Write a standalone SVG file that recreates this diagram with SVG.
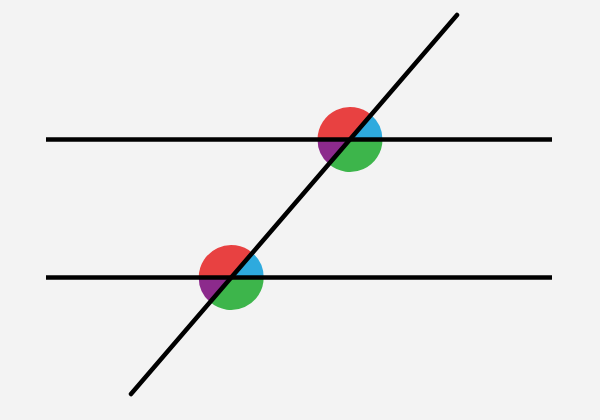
<svg xmlns="http://www.w3.org/2000/svg" width="600" height="420" viewBox="0 0 600 420">
<style>
.red{fill:#e84141}.blue{fill:#2eaade}.purple{fill:#8c2a8c}.green{fill:#3db54b}
.ln{stroke:#000;stroke-width:4.5;fill:none;stroke-linecap:round}
</style>
<rect width="600" height="420" fill="#f3f3f3"/>
<g id="angles-top">
<path class="blue" d="M350,139.5 L382.5,139.5 A32.5,32.5 0 0 0 371.2,114.9 Z"/>
<path class="red" d="M350,139.5 L371.2,114.9 A32.5,32.5 0 0 0 317.5,139.5 Z"/>
<path class="purple" d="M350,139.5 L317.5,139.5 A32.5,32.5 0 0 0 328.8,164.1 Z"/>
<path class="green" d="M350,139.5 L328.8,164.1 A32.5,32.5 0 0 0 382.5,139.5 Z"/>
</g>
<g id="angles-bottom">
<path class="blue" d="M231.2,277.5 L263.7,277.5 A32.5,32.5 0 0 0 252.4,252.9 Z"/>
<path class="red" d="M231.2,277.5 L252.4,252.9 A32.5,32.5 0 0 0 198.7,277.5 Z"/>
<path class="purple" d="M231.2,277.5 L198.7,277.5 A32.5,32.5 0 0 0 210.0,302.1 Z"/>
<path class="green" d="M231.2,277.5 L210.0,302.1 A32.5,32.5 0 0 0 263.7,277.5 Z"/>
</g>
<g id="connectors">
<line class="ln" x1="46" y1="139.5" x2="552" y2="139.5" style="stroke-linecap:butt"/>
<line class="ln" x1="46" y1="277.5" x2="552" y2="277.5" style="stroke-linecap:butt"/>
<line class="ln" x1="131" y1="394" x2="457" y2="15"/>
</g>
</svg>
